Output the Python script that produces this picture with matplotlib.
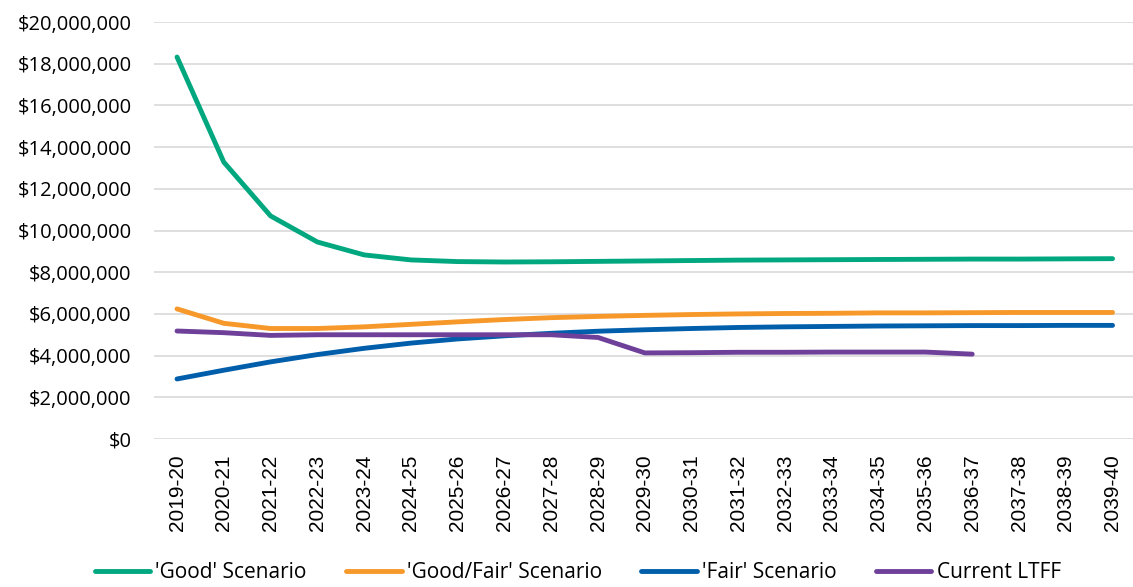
import matplotlib
matplotlib.use("Agg")
import matplotlib.pyplot as plt
from matplotlib.ticker import FuncFormatter

plt.rcParams.update({"font.family": ["Open Sans", "DejaVu Sans"], "font.size": 14})

years = ["2019-20", "2020-21", "2021-22", "2022-23", "2023-24", "2024-25", "2025-26",
         "2026-27", "2027-28", "2028-29", "2029-30", "2030-31", "2031-32", "2032-33",
         "2033-34", "2034-35", "2035-36", "2036-37", "2037-38", "2038-39", "2039-40"]

# values in $ millions
good = [18.32, 13.28, 10.70, 9.45, 8.83, 8.59, 8.51, 8.49, 8.50, 8.52, 8.54, 8.56,
        8.58, 8.59, 8.60, 8.61, 8.62, 8.63, 8.63, 8.64, 8.65]
good_fair = [6.24, 5.55, 5.30, 5.30, 5.38, 5.50, 5.62, 5.73, 5.82, 5.88, 5.93, 5.97,
             6.00, 6.02, 6.03, 6.05, 6.05, 6.06, 6.07, 6.07, 6.07]
fair = [2.88, 3.30, 3.70, 4.05, 4.35, 4.60, 4.80, 4.95, 5.07, 5.17, 5.24, 5.30,
        5.35, 5.38, 5.40, 5.42, 5.43, 5.44, 5.44, 5.45, 5.45]
ltff = [5.18, 5.10, 4.97, 5.00, 5.00, 5.00, 5.00, 5.00, 5.00, 4.87, 4.13, 4.14,
        4.16, 4.16, 4.17, 4.17, 4.17, 4.07]

series = [("'Good' Scenario", good, "#00A77F"),
          ("'Good/Fair' Scenario", good_fair, "#F7982A"),
          ("'Fair' Scenario", fair, "#005EAB"),
          ("Current LTFF", ltff, "#6E4099")]

fig = plt.figure(figsize=(11.33, 5.87), dpi=100)
ax = fig.add_axes([0.1356, 0.2521, 0.867, 0.7104])

for name, vals, col in series:
    ax.plot(range(len(vals)), [v * 1e6 for v in vals], color=col, lw=3.5,
            solid_capstyle="round", solid_joinstyle="round", label=name, zorder=3)

ax.set_xlim(-0.5, len(years) - 0.5)
ax.set_ylim(0, 20e6)
ax.set_yticks([i * 2e6 for i in range(11)])
ax.yaxis.set_major_formatter(FuncFormatter(lambda v, _: f"${v:,.0f}"))
ax.set_xticks(range(len(years)))
ax.set_xticklabels(years, rotation=90, fontsize=15, family=["Liberation Sans", "DejaVu Sans"])
ax.tick_params(axis="y", labelsize=14.5, length=0, pad=16)
ax.tick_params(axis="x", length=0, pad=11)
ax.grid(axis="y", color="#D9D9D9", lw=1.2)
for s in ax.spines.values():
    s.set_visible(False)

fig.legend(loc="center", bbox_to_anchor=(0.51, 0.024), ncol=4, frameon=False,
           fontsize=15, handlelength=2.65, handletextpad=0.25, columnspacing=1.9)

fig.savefig("out.png", dpi=100)
